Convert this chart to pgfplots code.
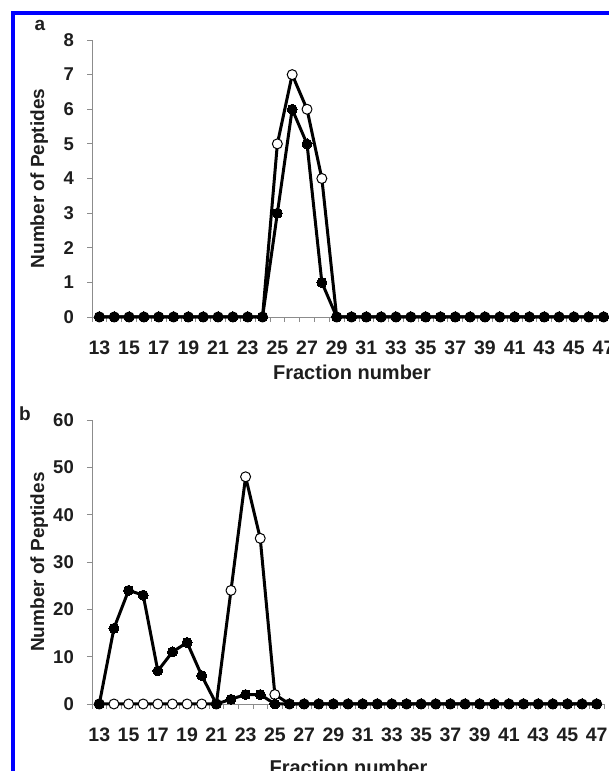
\documentclass[border=0pt]{standalone}
\usepackage{fontspec}
\setmainfont{Liberation Sans}
\usepackage{pgfplots}
\usepackage{pgfplotstable}
\pgfplotsset{compat=1.18}

% fraction, open circles, filled circles
\pgfplotstableread{
frac open filled
13 0 0
14 0 0
15 0 0
16 0 0
17 0 0
18 0 0
19 0 0
20 0 0
21 0 0
22 0 0
23 0 0
24 0 0
25 5 3
26 7 6
27 6 5
28 4 1
29 0 0
30 0 0
31 0 0
32 0 0
33 0 0
34 0 0
35 0 0
36 0 0
37 0 0
38 0 0
39 0 0
40 0 0
41 0 0
42 0 0
43 0 0
44 0 0
45 0 0
46 0 0
47 0 0
}\panela

\pgfplotstableread{
frac open filled
13 0 0
14 0 16
15 0 24
16 0 23
17 0 7
18 0 11
19 0 13
20 0 6
21 0 0
22 24 1
23 48 2
24 35 2
25 2 0
26 0 0
27 0 0
28 0 0
29 0 0
30 0 0
31 0 0
32 0 0
33 0 0
34 0 0
35 0 0
36 0 0
37 0 0
38 0 0
39 0 0
40 0 0
41 0 0
42 0 0
43 0 0
44 0 0
45 0 0
46 0 0
47 0 0
}\panelb

\definecolor{axisgray}{HTML}{8C8C8C}
\definecolor{txt}{HTML}{1E1E1E}

\pgfplotsset{
  panel/.style={
    scale only axis, anchor=south west, clip=false,
    xmin=12.5, xmax=47.5, ymin=0,
    axis x line=bottom, axis y line=left,
    axis line style={draw=axisgray, line width=0.8pt, -},
    xtick={13,15,...,47}, minor xtick={12.5,13.5,...,47.5},
    major x tick style={draw=none},
    tick align=outside, major tick length=5pt, minor tick length=5pt,
    every tick/.append style={axisgray, line width=0.8pt},
    tick label style={font=\fontsize{18.5}{20}\selectfont\bfseries, text=txt, inner sep=0pt},
    /pgf/number format/assume math mode=true,
    xticklabel style={font=\fontsize{19.5}{20}\selectfont\bfseries, anchor=north,
      text height=14pt, text depth=0pt, yshift=-18pt},
    yticklabel style={anchor=east, xshift=-13pt},
  },
  openser/.style={black, line width=3pt, line join=round, mark=*, mark size=5pt,
    mark options={fill=white, draw=black, line width=1pt}},
  fillser/.style={black, line width=3pt, line join=round, mark=*, mark size=5pt,
    mark options={fill=black, draw=black, line width=0pt}},
}

\begin{document}
\begin{tikzpicture}[x=1pt, y=1pt]
\useasboundingbox (0,0) rectangle (609,771);
\begin{scope}
\clip (0,0) rectangle (609,771);
\draw[line width=4.5pt, color={rgb,255:red,0;green,0;blue,255}] (13,-20) -- (13,758) -- (640,758);

\begin{axis}[panel, at={(92pt,454pt)}, width=519pt, height=277pt, ymax=8, ytick={0,1,...,8}]
\addplot[openser] table[x=frac, y=open] {\panela};
\addplot[fillser] table[x=frac, y=filled] {\panela};
\end{axis}

\begin{axis}[panel, at={(92pt,67pt)}, width=512pt, height=284pt, ymax=60, ytick={0,10,...,60}]
\addplot[openser] table[x=frac, y=open] {\panelb};
\addplot[fillser] table[x=frac, y=filled] {\panelb};
\end{axis}

\begin{scope}[font=\fontsize{19}{22}\selectfont\bfseries, text=txt]
\node at (40,746) {a};
\node at (25,357) {b};
\node[rotate=90, anchor=base] at (44,592.5) {Number of Peptides};
\node[rotate=90, anchor=base] at (44,209) {Number of Peptides};
\node[anchor=base, font=\fontsize{20}{22}\selectfont\bfseries] at (352,391) {Fraction number};
\node[anchor=base, font=\fontsize{20}{22}\selectfont\bfseries] at (348.5,-4) {Fraction number};
\end{scope}
\end{scope}
\end{tikzpicture}
\end{document}
